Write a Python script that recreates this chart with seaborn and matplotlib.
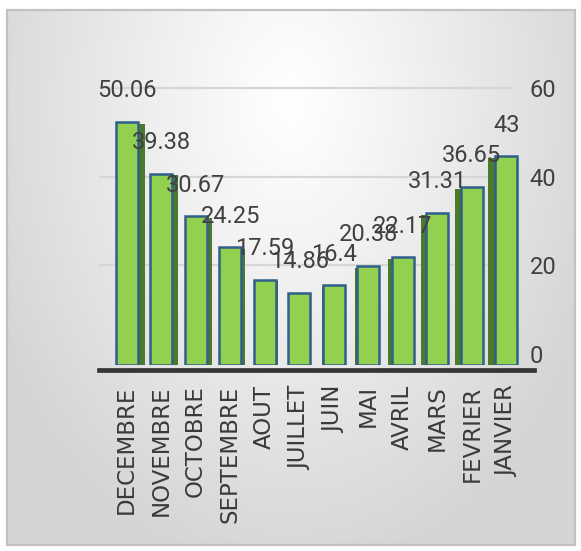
import numpy as np
import pandas as pd
import matplotlib
matplotlib.use("Agg")
import matplotlib.pyplot as plt
import matplotlib.patheffects as pe
from matplotlib.patches import Rectangle
import seaborn as sns

# Monthly values, listed from December back to January
mois = ["DECEMBRE", "NOVEMBRE", "OCTOBRE", "SEPTEMBRE", "AOUT", "JUILLET",
        "JUIN", "MAI", "AVRIL", "MARS", "FEVRIER", "JANVIER"]
valeurs = [50.06, 39.38, 30.67, 24.25, 17.59, 14.86,
           16.4, 20.38, 22.17, 31.31, 36.65, 43]
graduations = [0, 20, 40, 60]

df = pd.DataFrame({"mois": mois, "valeur": valeurs})

sns.set_theme(style="white")
num_font = ["Roboto", "DejaVu Sans"]
txt_col = "#404040"

W, H = 581, 551
fig = plt.figure(figsize=(W / 100, H / 100), dpi=100)
fig.patch.set_facecolor("white")

# framed panel with a soft radial grey gradient
bg = fig.add_axes([0, 0, 1, 1])
bg.set_xlim(0, W)
bg.set_ylim(H, 0)
bg.axis("off")
x0, x1, y0, y1 = 7, 575, 10, 545
gx, gy = np.meshgrid(np.linspace(x0, x1, 300), np.linspace(y0, y1, 300))
r = np.clip(np.sqrt(((gx - 290) / 330) ** 2 + ((gy - 100) / 480) ** 2), 0, 1)
shade = (255 - 42 * r ** 1.1) / 255
bg.imshow(np.dstack([shade] * 3), extent=(x0, x1, y1, y0), aspect="auto",
          interpolation="bilinear")
bg.add_patch(Rectangle((x0, y0), x1 - x0, y1 - y0, fill=False,
                       edgecolor="#c2c2c2", lw=1.6))

# bar area
ax = fig.add_axes([99 / W, (H - 365) / H, 435 / W, 291 / H])
sns.barplot(data=df, x="mois", y="valeur", color="#92D050", saturation=1,
            width=0.64, edgecolor="#2F5F8A", linewidth=1.8, ax=ax)
ax.set_xlim(-0.8, len(mois) - 0.2)
ax.set_ylim(0, 60)

n = len(ax.patches)
for i, p in enumerate(ax.patches):
    dx = 5.5 * (n / 2 - 0.5 - i) / (n / 2 - 0.5)
    p.set_path_effects([
        pe.SimplePatchShadow(offset=(dx, -1.0), shadow_rgbFace="#4B7A2A", alpha=1),
        pe.Normal(),
    ])

for i, v in enumerate(valeurs):
    ax.annotate(f"{v:g}", (i, v), xytext=(0, 22.5), textcoords="offset points",
                ha="center", va="center", fontsize=17, family=num_font,
                color=txt_col, zorder=5)

for s in ["left", "top", "right"]:
    ax.spines[s].set_visible(False)
ax.spines["bottom"].set_position(("outward", 3.6))
ax.spines["bottom"].set_linewidth(3.4)
ax.spines["bottom"].set_color("#353535")
ax.set_yticks([])
ax.set_xlabel("")
ax.set_ylabel("")
ax.tick_params(axis="x", length=0, pad=11)
ax.set_xticks(range(len(mois)))
ax.set_xticklabels(mois, rotation=90, fontsize=16.5, family="DejaVu Sans",
                   color="#3a3a3a")

# right-hand value axis with light gridlines
ax2 = ax.twinx()
ax2.set_ylim(-2.48, 63.16)
ax2.set_yticks(graduations)
ax2.set_yticklabels([str(g) for g in graduations], fontsize=17,
                    family=num_font, color=txt_col)
ax2.tick_params(axis="y", length=0, pad=-3)
for s in ax2.spines.values():
    s.set_visible(False)
for g in graduations[1:]:
    ax2.axhline(g, xmin=0.0, xmax=0.945, color="#d6d6d6", lw=1.6, zorder=0)

ax.set_zorder(ax2.get_zorder() + 1)
ax.patch.set_visible(False)
ax2.patch.set_visible(False)

fig.savefig("out.png", dpi=100)
